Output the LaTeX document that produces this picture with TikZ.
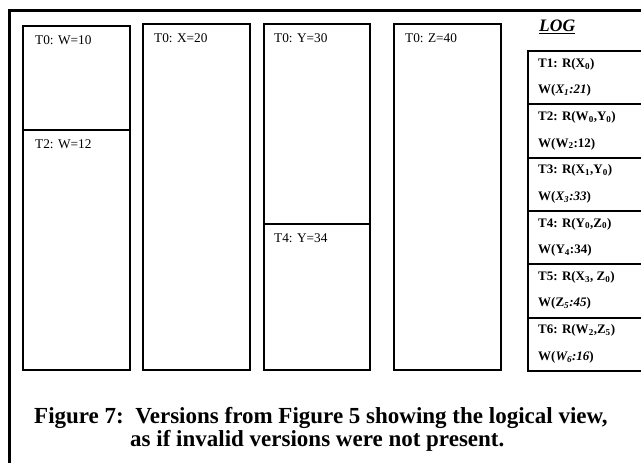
\documentclass[tikz,border=0pt]{standalone}
\usepackage{fontspec}
\setmainfont{Liberation Serif}
\begin{document}
\begin{tikzpicture}[x=1pt,y=-1pt,
  frame/.style={draw, line width=2.5pt, rectangle, anchor=north west, inner sep=0pt},
  verbox/.style={draw, line width=2pt, rectangle, anchor=north west, inner sep=0pt},
  logrow/.style={draw, line width=2pt, rectangle, anchor=north west, inner sep=0pt, minimum width=140pt, minimum height=53.33pt},
  vlabel/.style={anchor=west, inner sep=0pt, font=\fontsize{13.3}{15}\selectfont},
  loglabel/.style={anchor=west, inner sep=0pt, font=\fontsize{13}{15}\selectfont\bfseries},
  captext/.style={anchor=base west, inner sep=0pt, font=\fontsize{23}{26}\selectfont\bfseries}]
\useasboundingbox (0,0) rectangle (641,463);
\clip (0,0) rectangle (641,463);
% outer frame
\node[frame, minimum width=700pt, minimum height=500pt] (outer) at (8,9) {};
% version boxes
\node[verbox, minimum width=107pt, minimum height=104pt] (w0) at (22,25) {};
\node[verbox, minimum width=107pt, minimum height=240pt] (w2) at (22,129) {};
\node[verbox, minimum width=107pt, minimum height=346pt] (x0) at (142,23) {};
\node[verbox, minimum width=106pt, minimum height=200pt] (y0) at (263,23) {};
\node[verbox, minimum width=106pt, minimum height=146pt] (y4) at (263,223) {};
\node[verbox, minimum width=107pt, minimum height=346pt] (z0) at (393,23) {};
% labels
\node[vlabel] (lw0) at (35,40) {T0: W=10};
\node[vlabel] (lw2) at (35,144) {T2: W=12};
\node[vlabel] (lx0) at (154,38) {T0: X=20};
\node[vlabel] (ly0) at (274,38) {T0: Y=30};
\node[vlabel] (ly4) at (274,238) {T4: Y=34};
\node[vlabel] (lz0) at (405,38) {T0: Z=40};
% log title
\node[anchor=base west, inner sep=0pt, font=\fontsize{17.5}{20}\selectfont\bfseries\itshape] (logt) at (539,31) {LOG};
\draw[line width=1.5pt] ([yshift=-2.5pt]logt.base west) -- ([yshift=-2.5pt]logt.base east);
% log rows
\foreach \i in {0,...,5} {
  \node[logrow] (row\i) at (527,{50+53.33*\i}) {};
}
\node[loglabel] (t1a) at (538,64) {T1: R(X\textsubscript{0})};
\node[loglabel] (t1b) at (538,90.6) {W(\textit{X\textsubscript{1}:21})};
\node[loglabel] (t2a) at (538,117.3) {T2: R(W\textsubscript{0},Y\textsubscript{0})};
\node[loglabel] (t2b) at (538,143.9) {W(W\textsubscript{2}:12)};
\node[loglabel] (t3a) at (538,170.6) {T3: R(X\textsubscript{1},Y\textsubscript{0})};
\node[loglabel] (t3b) at (538,197.2) {W(\textit{X\textsubscript{3}:33})};
\node[loglabel] (t4a) at (538,223.9) {T4: R(Y\textsubscript{0},Z\textsubscript{0})};
\node[loglabel] (t4b) at (538,250.5) {W(Y\textsubscript{4}:34)};
\node[loglabel] (t5a) at (538,277.2) {T5: R(X\textsubscript{3}, Z\textsubscript{0})};
\node[loglabel] (t5b) at (538,303.8) {W(Z\textit{\textsubscript{5}:45})};
\node[loglabel] (t6a) at (538,330.5) {T6: R(W\textsubscript{2},Z\textsubscript{5})};
\node[loglabel] (t6b) at (538,357.1) {W(\textit{W\textsubscript{6}:16})};
% caption
\node[captext] (cap1) at (34,423) {Figure 7:\ \ Versions from Figure 5 showing the logical view,};
\node[captext] (cap2) at (130,446) {as if invalid versions were not present.};
\end{tikzpicture}
\end{document}
